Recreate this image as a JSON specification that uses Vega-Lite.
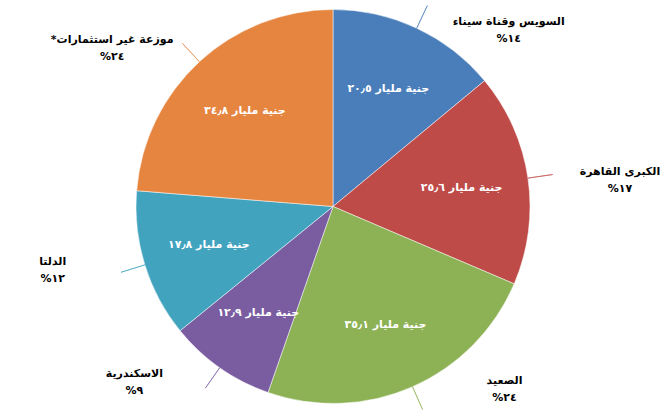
{
  "$schema": "https://vega.github.io/schema/vega-lite/v6.json",
  "width": 660,
  "height": 415,
  "autosize": {"type": "fit", "contains": "padding"},
  "padding": {"left": 6, "top": 0, "right": 0, "bottom": 0},
  "background": "white",
  "view": {"stroke": null},
  "config": {"text": {"font": "DejaVu Sans"}},
  "data": {
    "values": [
      {"ord": 1, "region": "السويس وقناة سيناء", "value": 20.5, "pct": "%١٤", "inner": "جنية مليار ٢٠٫٥"},
      {"ord": 2, "region": "الكبرى القاهرة", "value": 25.6, "pct": "%١٧", "inner": "جنية مليار ٢٥٫٦"},
      {"ord": 3, "region": "الصعيد", "value": 35.1, "pct": "%٢٤", "inner": "جنية مليار ٣٥٫١"},
      {"ord": 4, "region": "الاسكندرية", "value": 12.9, "pct": "%٩", "inner": "جنية مليار ١٢٫٩"},
      {"ord": 5, "region": "الدلتا", "value": 17.8, "pct": "%١٢", "inner": "جنية مليار ١٧٫٨"},
      {"ord": 6, "region": "*موزعة غير استثمارات", "value": 34.8, "pct": "%٢٤", "inner": "جنية مليار ٣٤٫٨"}
    ]
  },
  "encoding": {
    "theta": {"field": "value", "type": "quantitative", "stack": true},
    "order": {"field": "ord", "type": "quantitative"},
    "color": {
      "field": "ord",
      "type": "nominal",
      "legend": null,
      "scale": {
        "domain": [1, 2, 3, 4, 5, 6],
        "range": ["#4A7EBB", "#BE4B48", "#8DB255", "#7A5CA1", "#42A3BF", "#E6853F"]
      }
    }
  },
  "layer": [
    {"mark": {"type": "arc", "outerRadius": 197, "stroke": "white", "strokeWidth": 0.5}},
    {"mark": {"type": "arc", "innerRadius": 197, "outerRadius": 222, "padAngle": 1.5, "filled": false, "strokeWidth": 1, "opacity": 0.6}},
    {
      "mark": {"type": "text", "radius": 130, "fontWeight": "bold", "fontSize": 11},
      "encoding": {"text": {"field": "inner"}, "color": {"value": "white"}}
    },
    {
      "mark": {"type": "text", "radius": 197, "dx": 92, "dy": -6, "fontWeight": "bold", "fontSize": 11},
      "encoding": {"text": {"condition": {"test": "datum.ord <= 3", "field": "region"}, "value": ""}, "color": {"value": "black"}}
    },
    {
      "mark": {"type": "text", "radius": 197, "dx": 92, "dy": 11, "fontWeight": "bold", "fontSize": 11},
      "encoding": {"text": {"condition": {"test": "datum.ord <= 3", "field": "pct"}, "value": ""}, "color": {"value": "black"}}
    },
    {
      "mark": {"type": "text", "radius": 215, "dx": -75, "dy": -8, "fontWeight": "bold", "fontSize": 11},
      "encoding": {"text": {"condition": {"test": "datum.ord > 3", "field": "region"}, "value": ""}, "color": {"value": "black"}}
    },
    {
      "mark": {"type": "text", "radius": 215, "dx": -75, "dy": 9, "fontWeight": "bold", "fontSize": 11},
      "encoding": {"text": {"condition": {"test": "datum.ord > 3", "field": "pct"}, "value": ""}, "color": {"value": "black"}}
    }
  ]
}
